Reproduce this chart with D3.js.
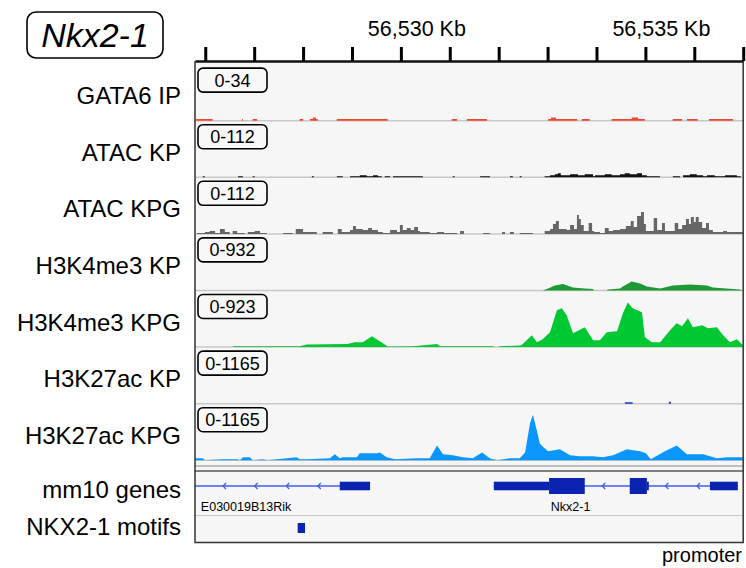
<!DOCTYPE html>
<html lang="en">
<head>
<meta charset="UTF-8">
<title>Nkx2-1 locus</title>
<script src="https://d3js.org/d3.v7.min.js"></script>
<style>
  body { margin: 0; background: #fff; }
  svg text { font-family: "Liberation Sans", Arial, sans-serif; fill: #000; }
</style>
</head>
<body>
<svg id="chart" width="746" height="568"></svg>
<script>
// genomic window shown, in kb (chr12)
var region = [56525.79, 56537.0];
var rulerTicks = d3.range(56526, 56538);
var rulerLabels = [56530, 56535];

var trackNames = ["GATA6 IP", "ATAC KP", "ATAC KPG", "H3K4me3 KP", "H3K4me3 KPG", "H3K27ac KP", "H3K27ac KPG"];
var trackMax = [34, 112, 112, 932, 923, 1165, 1165];

// signal tracks: [position kb, value]
var gata6 = [[56525.81,1],[56526.15,0],[56526.75,1],[56526.77,0],[56526.97,1],[56527.06,0],[56527.93,1],[56528.00,0],
  [56528.14,1],[56528.20,2],[56528.26,1],[56528.30,0],[56528.69,1],[56529.73,0],[56531.04,1],[56531.15,0],
  [56531.35,1],[56531.76,0],[56533.01,1],[56533.07,2],[56533.17,1],[56533.60,0],[56533.70,1],[56533.86,0],
  [56534.31,1],[56534.72,2],[56534.85,1],[56534.99,0],[56535.56,1],[56535.75,0],[56535.85,1],[56536.07,0],
  [56536.30,1],[56536.79,0]];

var atacKP = [[56525.95,2],[56525.99,0],[56526.67,2],[56526.77,0],[56526.97,2],[56527.01,0],[56528.18,2],[56528.22,0],
  [56528.69,2],[56528.81,0],[56528.96,2],[56529.10,2],[56529.16,4],[56529.30,2],[56529.43,4],[56529.53,2],[56529.61,0],
  [56529.67,2],[56529.78,0],[56529.84,2],[56530.45,0],[56531.06,2],[56531.10,0],[56531.62,2],[56531.82,0],
  [56532.23,2],[56532.29,0],[56532.43,2],[56532.47,0],[56532.94,2],[56533.05,4],[56533.15,6],[56533.21,8],
  [56533.27,4],[56533.46,6],[56533.62,4],[56533.76,6],[56533.93,2],[56533.97,4],[56534.17,6],[56534.31,4],
  [56534.48,6],[56534.58,8],[56534.68,6],[56534.83,8],[56534.93,4],[56535.03,2],[56535.30,0],[56535.56,2],
  [56535.71,0],[56535.77,4],[56535.91,6],[56536.05,4],[56536.18,2],[56536.26,4],[56536.42,2],[56536.63,4],
  [56536.87,2],[56536.95,0]];

var atacKPG = [[56525.83,2],[56525.99,4],[56526.09,6],[56526.20,2],[56526.30,10],[56526.40,4],[56526.50,0],[56526.56,6],
  [56526.65,2],[56526.81,0],[56526.87,4],[56527.01,6],[56527.12,2],[56527.26,0],[56527.59,2],[56527.79,0],
  [56527.85,10],[56528.00,4],[56528.28,0],[56528.40,4],[56528.61,0],[56528.71,10],[56528.79,4],[56528.96,8],
  [56529.02,16],[56529.08,10],[56529.22,8],[56529.33,12],[56529.41,8],[56529.53,4],[56529.63,2],[56529.78,8],
  [56529.92,4],[56529.98,18],[56530.04,8],[56530.12,12],[56530.20,8],[56530.27,14],[56530.35,6],[56530.39,4],
  [56530.59,2],[56530.74,4],[56530.88,2],[56531.15,0],[56531.21,6],[56531.29,0],[56531.68,2],[56531.82,0],
  [56532.07,4],[56532.13,0],[56532.23,4],[56532.31,0],[56532.43,2],[56532.70,0],[56532.94,6],[56533.05,10],
  [56533.11,20],[56533.17,26],[56533.23,10],[56533.39,8],[56533.46,18],[56533.54,10],[56533.60,38],[56533.64,30],
  [56533.68,18],[56533.74,6],[56533.84,22],[56533.91,6],[56533.95,4],[56534.07,2],[56534.17,12],[56534.25,6],
  [56534.34,8],[56534.48,10],[56534.60,16],[56534.70,26],[56534.76,14],[56534.83,36],[56534.91,44],[56534.97,20],
  [56535.01,6],[56535.17,32],[56535.24,8],[56535.34,22],[56535.40,6],[56535.60,22],[56535.67,10],[56535.75,18],
  [56535.83,30],[56535.89,20],[56535.93,34],[56535.99,24],[56536.03,34],[56536.09,24],[56536.16,12],[56536.24,22],
  [56536.30,8],[56536.38,4],[56536.59,6],[56536.67,4],[56536.99,0]];

var k4me3KP = [[56532.90,0],[56533.01,33],[56533.15,83],[56533.31,111],[56533.52,50],[56533.76,33],[56533.93,25],
  [56533.95,0],[56534.21,0],[56534.23,17],[56534.48,33],[56534.54,67],[56534.72,150],[56534.89,116],[56535.03,67],
  [56535.30,33],[56535.56,83],[56535.91,100],[56536.26,83],[56536.38,50],[56536.93,17],[56536.99,0]];

var k4me3KPG = [[56526.56,0],[56526.58,16],[56527.06,16],[56527.93,16],[56528.08,45],[56528.90,50],[56529.06,82],
  [56529.22,82],[56529.41,182],[56529.57,99],[56529.73,8],[56530.25,16],[56530.74,50],[56530.80,16],[56531.21,16],
  [56531.88,16],[56531.92,0],[56532.00,0],[56532.02,16],[56532.43,25],[56532.47,33],[56532.68,198],[56532.78,82],
  [56532.90,132],[56533.05,247],[56533.19,610],[56533.29,643],[56533.39,528],[56533.52,231],[56533.76,330],
  [56533.93,115],[56534.07,115],[56534.21,247],[56534.42,264],[56534.54,561],[56534.64,742],[56534.74,643],
  [56534.93,577],[56534.99,165],[56535.13,82],[56535.30,82],[56535.54,313],[56535.64,396],[56535.75,346],
  [56535.87,478],[56535.97,330],[56536.16,363],[56536.28,313],[56536.46,330],[56536.59,198],[56536.73,82],
  [56536.87,132],[56536.99,33]];

var k27acKP = [[56534.56,0],[56534.58,31],[56534.74,0],[56535.46,0],[56535.48,42],[56535.52,0]];

var k27acKPG = [[56525.79,42],[56525.95,42],[56525.99,0],[56526.36,21],[56526.65,21],[56526.71,0],[56526.77,62],
  [56526.91,62],[56526.97,0],[56527.16,21],[56527.28,0],[56527.67,42],[56527.87,62],[56527.93,21],[56528.08,21],
  [56528.55,42],[56528.65,125],[56528.75,42],[56528.81,62],[56529.10,62],[56529.16,146],[56529.51,146],
  [56529.57,166],[56529.71,62],[56529.88,21],[56530.33,42],[56530.59,42],[56530.74,312],[56530.86,125],
  [56531.06,104],[56531.27,62],[56531.47,42],[56531.66,166],[56531.82,42],[56531.88,21],[56531.98,0],
  [56532.23,42],[56532.43,42],[56532.54,166],[56532.64,770],[56532.70,957],[56532.78,624],[56532.84,354],
  [56532.90,291],[56533.01,187],[56533.25,229],[56533.46,104],[56533.66,83],[56533.93,83],[56534.13,62],
  [56534.34,104],[56534.62,229],[56534.89,187],[56535.01,146],[56535.11,21],[56535.40,187],[56535.64,312],
  [56535.85,125],[56536.18,125],[56536.46,42],[56536.67,62],[56536.99,62]];

var trackData = [gata6, atacKP, atacKPG, k4me3KP, k4me3KPG, k27acKP, k27acKPG];

// genes (minus strand), exons as [start kb, end kb, type]
var geneNames = ["E030019B13Rik", "Nkx2-1"];
var geneSpans = [[56525.0, 56529.37], [56531.90, 56536.89]];
var geneLabelAt = [56525.91, 56533.47];
var geneExons = [
  [[56528.75, 56529.37, "utr"]],
  [[56531.90, 56533.03, "utr"], [56533.03, 56533.76, "cds"], [56534.68, 56535.03, "cds"],
   [56535.03, 56535.07, "utr"], [56536.32, 56536.89, "utr"]]
];
var motifs = [[56527.89, 56528.04]];

// styles
var trackColors = ["#f2462b", "#111111", "#666666", "#1e9a35", "#00c832", "#1a35c8", "#0a96ff"];
var stepTracks = [true, true, true, false, false, true, false];

var svg = d3.select("#chart");
var left = 195, right = 743.2;
var x = d3.scaleLinear().domain(region).range([left, right]);

var rulerY = 61;
var firstBase = 120.7, trackH = 56.6;
var panelBottom = 542.5;

// panel background
svg.append("rect")
  .attr("x", left).attr("y", rulerY)
  .attr("width", right - left).attr("height", panelBottom - rulerY)
  .attr("fill", "#f6f6f6");

// title box
svg.append("rect")
  .attr("x", 27).attr("y", 12).attr("width", 136).attr("height", 46)
  .attr("rx", 9)
  .attr("fill", "#fff").attr("stroke", "#000").attr("stroke-width", 1.6);
svg.append("text")
  .attr("x", 95).attr("y", 47)
  .attr("text-anchor", "middle")
  .style("font-size", "34px").style("font-style", "italic")
  .text("Nkx2-1");

// ruler
var ruler = svg.append("g").attr("transform", "translate(0," + rulerY + ")");
ruler.call(d3.axisTop(x).tickValues(rulerTicks).tickSize(14).tickSizeOuter(0).tickFormat(""));
ruler.selectAll(".tick line").attr("stroke", "#000").attr("stroke-width", 3);
ruler.select(".domain").attr("stroke", "#111").attr("stroke-width", 2.5);

svg.selectAll("text.rlab")
  .data(rulerLabels)
  .enter().append("text")
  .attr("class", "rlab")
  .attr("x", function(d) { return x(d) + 16; })
  .attr("y", 36)
  .attr("text-anchor", "middle")
  .style("font-size", "21.5px")
  .text(function(d) { return d3.format(",")(d) + " Kb"; });

// signal tracks
trackData.forEach(function(data, i) {
  var base = firstBase + i * trackH;
  var top = base - trackH;
  var y = d3.scaleLinear().domain([0, trackMax[i]]).range([0, -(trackH - 1)]);
  var g = svg.append("g").attr("transform", "translate(0," + base + ")");

  g.append("line")
    .attr("x1", left).attr("x2", right)
    .attr("stroke", "#c8c8c8").attr("stroke-width", 1.5);

  var area = d3.area()
    .x(function(d) { return x(d[0]); })
    .y0(0)
    .y1(function(d) { return y(d[1]); })
    .curve(stepTracks[i] ? d3.curveStepAfter : d3.curveLinear);

  g.append("path")
    .datum(data)
    .attr("d", area)
    .attr("fill", trackColors[i]);

  // data range box
  svg.append("rect")
    .attr("x", 198).attr("y", top + 4)
    .attr("width", 69).attr("height", 24)
    .attr("rx", 5)
    .attr("fill", "#f8f8f8").attr("stroke", "#000").attr("stroke-width", 1.6);
  svg.append("text")
    .attr("x", 232.5).attr("y", top + 22.5)
    .attr("text-anchor", "middle")
    .style("font-size", "18px")
    .text("0-" + trackMax[i]);

  svg.append("text")
    .attr("x", 181).attr("y", top + 40)
    .attr("text-anchor", "end")
    .style("font-size", "24px")
    .text(trackNames[i]);
});

// separator above the annotation tracks
svg.append("line").attr("x1", left).attr("x2", right).attr("y1", 466).attr("y2", 466)
  .attr("stroke", "#888").attr("stroke-width", 1.2);
svg.append("line").attr("x1", left).attr("x2", right).attr("y1", 471).attr("y2", 471)
  .attr("stroke", "#555").attr("stroke-width", 1.5);

// gene track
var geneY = 486;
var gg = svg.append("g");
geneSpans.forEach(function(s, i) {
  var x0 = Math.max(left, x(s[0])), x1 = Math.min(right, x(s[1]));
  gg.append("line")
    .attr("x1", x0).attr("x2", x1).attr("y1", geneY).attr("y2", geneY)
    .attr("stroke", "#3f5ff0").attr("stroke-width", 1.5);

  // strand arrows in the introns
  var exons = geneExons[i];
  d3.range(224, right, 31.6).forEach(function(px) {
    if (px < x0 + 4 || px > x1 - 4) return;
    var inExon = exons.some(function(e) { return px > x(e[0]) - 6 && px < x(e[1]) + 6; });
    if (inExon) return;
    gg.append("path")
      .attr("d", "M" + (px + 2) + "," + (geneY - 3) + "L" + (px - 1) + "," + geneY + "L" + (px + 2) + "," + (geneY + 3))
      .attr("fill", "none").attr("stroke", "#3f5ff0").attr("stroke-width", 1.3);
  });

  gg.selectAll(null)
    .data(exons)
    .enter().append("rect")
    .attr("x", function(e) { return x(e[0]); })
    .attr("width", function(e) { return x(e[1]) - x(e[0]); })
    .attr("y", function(e) { return e[2] === "cds" ? geneY - 8 : geneY - 4.3; })
    .attr("height", function(e) { return e[2] === "cds" ? 16 : 8.6; })
    .attr("fill", "#0a23b0");

  gg.append("text")
    .attr("x", x(geneLabelAt[i]))
    .attr("y", 510.5)
    .attr("text-anchor", i === 0 ? "start" : "middle")
    .style("font-size", "12.5px")
    .text(geneNames[i]);
});

svg.append("line").attr("x1", left).attr("x2", right).attr("y1", 515.5).attr("y2", 515.5)
  .attr("stroke", "#c8c8c8").attr("stroke-width", 1.2);

// motif track
svg.selectAll("rect.motif")
  .data(motifs)
  .enter().append("rect")
  .attr("class", "motif")
  .attr("x", function(d) { return x(d[0]); })
  .attr("width", function(d) { return x(d[1]) - x(d[0]); })
  .attr("y", 523).attr("height", 10)
  .attr("fill", "#0a23b0");

// panel border
svg.append("path")
  .attr("d", "M" + left + "," + rulerY + "V" + panelBottom + "H" + right + "V" + rulerY)
  .attr("fill", "none").attr("stroke", "#333").attr("stroke-width", 1.5);

svg.append("text").attr("x", 181).attr("y", 498).attr("text-anchor", "end")
  .style("font-size", "24px").text("mm10 genes");
svg.append("text").attr("x", 181).attr("y", 535).attr("text-anchor", "end")
  .style("font-size", "24px").text("NKX2-1 motifs");

svg.append("text").attr("x", 742).attr("y", 562).attr("text-anchor", "end")
  .style("font-size", "20px").text("promoter");
</script>
</body>
</html>
